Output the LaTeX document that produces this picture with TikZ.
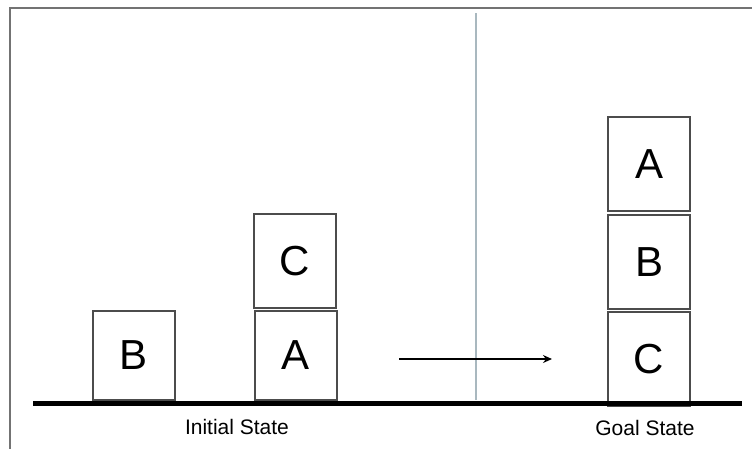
\documentclass[tikz,border=0pt]{standalone}
\usepackage{fontspec}
\setmainfont{Liberation Sans}
\usetikzlibrary{arrows.meta}
\begin{document}
\begin{tikzpicture}[x=1pt,y=-1pt,
  block/.style={draw=black!70, line width=1.1pt, minimum width=82pt, inner sep=0pt, font=\fontsize{42}{42}\selectfont},
  lbl/.style={font=\fontsize{21}{21}\selectfont, inner sep=0pt},
  frameline/.style={draw=black!55, line width=1.2pt}]
\useasboundingbox (0,0) rectangle (752,448);
% frame
\coordinate (fbl) at (10,460);
\coordinate (ftl) at (10,8);
\coordinate (ftr) at (760,8);
\draw[frameline] (fbl) -- (ftl) -- (ftr);
% divider
\coordinate (dtop) at (476,13);
\coordinate (dbot) at (476,400);
\draw[color={rgb,255:red,169;green,184;blue,191}, line width=1.5pt] (dtop) -- (dbot);
% blocks
\node[block, minimum height=89pt] (b1) at (134,355.5) {B};
\node[block, minimum height=89pt] (a1) at (296,355.5) {A};
\node[block, minimum height=94pt] (c1) at (295,261) {C};
\node[block, minimum height=94pt] (a2) at (649,164) {A};
\node[block, minimum height=94pt] (b2) at (649,262) {B};
\node[block, minimum height=94pt] (c2) at (649,359) {C};
% ground
\coordinate (gl) at (33,403);
\coordinate (gr) at (742,403);
\draw[line width=5pt] (gl) -- (gr);
% arrow
\coordinate (as) at (399,359);
\coordinate (ae) at (552,359);
\draw[line width=1.6pt, -{Stealth[length=9pt,width=8pt]}] (as) -- (ae);
% labels
\node[lbl] (l1) at (237,427) {Initial State};
\node[lbl] (l2) at (645,428) {Goal State};
\end{tikzpicture}
\end{document}
